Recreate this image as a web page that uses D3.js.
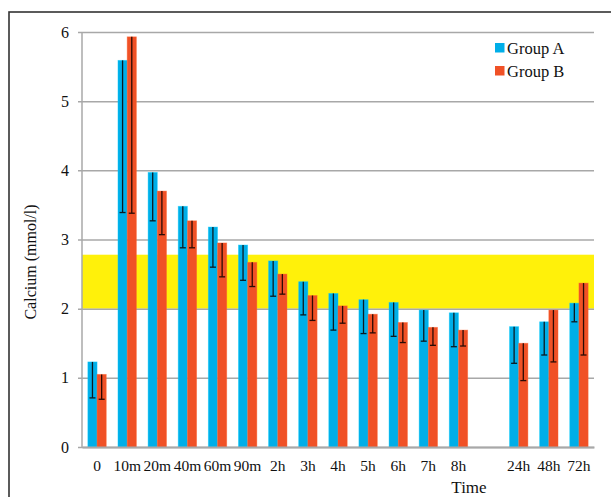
<!DOCTYPE html>
<html>
<head>
<meta charset="utf-8">
<script src="https://cdn.jsdelivr.net/npm/d3@7"></script>
<style>
  html, body { margin: 0; padding: 0; background: #fff; }
  svg { display: block; }
  text { font-family: "Liberation Serif", "Times New Roman", serif; fill: #111; }
</style>
</head>
<body>
<svg id="chart" width="611" height="497"></svg>
<script>
// Sampling times ("" leaves a gap between 8h and 24h)
const categories = ["0", "10m", "20m", "40m", "60m", "90m", "2h", "3h", "4h", "5h", "6h", "7h", "8h", "", "24h", "48h", "72h"];
const seriesNames = ["Group A", "Group B"];
// Mean calcium (mmol/l)
const groupA = [1.23, 5.59, 3.97, 3.48, 3.18, 2.92, 2.69, 2.39, 2.22, 2.13, 2.09, 1.98, 1.94, null, 1.74, 1.81, 2.08];
const groupB = [1.05, 5.93, 3.70, 3.27, 2.95, 2.67, 2.50, 2.19, 2.04, 1.92, 1.80, 1.73, 1.69, null, 1.50, 1.98, 2.37];
// Standard deviations (drawn below the mean)
const sdA = [0.52, 2.20, 0.70, 0.60, 0.58, 0.51, 0.51, 0.48, 0.53, 0.49, 0.49, 0.45, 0.49, null, 0.53, 0.48, 0.27];
const sdB = [0.36, 2.55, 0.63, 0.39, 0.49, 0.35, 0.29, 0.36, 0.25, 0.27, 0.29, 0.26, 0.23, null, 0.54, 0.75, 1.04];
// Reference range band
const normalRange = [2.0, 2.78];
const yTicks = [0, 1, 2, 3, 4, 5, 6];

const colors = ["#00aee8", "#f05126"];
const svg = d3.select("#chart");

const margin = { left: 82, right: 17, top: 32, bottom: 50 };
const W = 611, H = 497;

// outer frame
svg.append("rect")
  .attr("x", 9).attr("y", 12)
  .attr("width", W + 20).attr("height", H + 20)
  .attr("fill", "none").attr("stroke", "#333").attr("stroke-width", 1.6);

const x = d3.scaleBand().domain(d3.range(categories.length))
  .range([margin.left, W - margin.right]).padding(0);
const y = d3.scaleLinear().domain([0, 6]).range([H - margin.bottom, margin.top]);

const barW = 9.2;

// reference band
svg.append("rect")
  .attr("x", margin.left)
  .attr("width", W - margin.right - margin.left)
  .attr("y", y(normalRange[1]))
  .attr("height", y(normalRange[0]) - y(normalRange[1]))
  .attr("fill", "#fff10a");

// gridlines
const yAxis = d3.axisLeft(y).tickValues(yTicks).tickFormat(d3.format("d"))
  .tickSize(-(W - margin.right - margin.left)).tickPadding(13);
const gy = svg.append("g").attr("transform", `translate(${margin.left},0)`).call(yAxis);
gy.select(".domain").remove();
gy.selectAll(".tick line").attr("stroke", "#a8a8a8").attr("stroke-width", 1.5).attr("x1", -4);
gy.selectAll(".tick text").attr("font-size", 16).attr("fill", "#111")
  .style("font-family", "'Liberation Serif', serif");

// y axis line
svg.append("line")
  .attr("x1", margin.left).attr("x2", margin.left)
  .attr("y1", y(6)).attr("y2", y(0))
  .attr("stroke", "#a8a8a8").attr("stroke-width", 1.5);

// bars
const series = [groupA, groupB];
const sds = [sdA, sdB];
series.forEach((vals, s) => {
  const g = svg.append("g");
  const data = vals.map((v, i) => ({ i, v, sd: sds[s][i] })).filter(d => d.v != null);
  const cx = d => x(d.i) + x.bandwidth() / 2 + (s === 0 ? -barW : 0);
  g.selectAll("rect").data(data).join("rect")
    .attr("x", cx)
    .attr("width", barW)
    .attr("y", d => y(d.v))
    .attr("height", d => y(0) - y(d.v))
    .attr("fill", colors[s])
    .attr("stroke", d3.color(colors[s]).brighter(0.5))
    .attr("stroke-opacity", 0.5)
    .attr("stroke-width", 0.8);
  // error bars
  const ex = d => cx(d) + barW / 2;
  const eColor = s === 0 ? "#0b1a22" : "#2a0a04";
  g.selectAll("line.err").data(data).join("line").attr("class", "err")
    .attr("x1", ex).attr("x2", ex)
    .attr("y1", d => y(d.v)).attr("y2", d => y(d.v - d.sd))
    .attr("stroke", eColor).attr("stroke-width", 1.3);
  g.selectAll("line.cap").data(data).join("line").attr("class", "cap")
    .attr("x1", d => ex(d) - 3).attr("x2", d => ex(d) + 3)
    .attr("y1", d => y(d.v - d.sd)).attr("y2", d => y(d.v - d.sd))
    .attr("stroke", eColor).attr("stroke-width", 1.3);
});

// x axis
const xAxis = d3.axisBottom(x).tickFormat(i => categories[i]).tickSize(0).tickPadding(13);
const gx = svg.append("g").attr("transform", `translate(0,${y(0)})`).call(xAxis);
gx.select(".domain").attr("stroke", "#a8a8a8").attr("stroke-width", 2);
gx.selectAll(".tick text").attr("font-size", 15.5).attr("fill", "#111")
  .style("font-family", "'Liberation Serif', serif");

// axis titles
svg.append("text")
  .attr("x", 469).attr("y", 493)
  .attr("text-anchor", "middle").attr("font-size", 17)
  .text("Time");
svg.append("text")
  .attr("transform", "translate(36,262) rotate(-90)")
  .attr("text-anchor", "middle").attr("font-size", 16)
  .text("Calcium (mmol/l)");

// legend
const leg = svg.append("g");
seriesNames.forEach((name, s) => {
  leg.append("rect").attr("x", 495).attr("y", 43 + s * 23)
    .attr("width", 9.5).attr("height", 9.5).attr("fill", colors[s]);
  leg.append("text").attr("x", 507).attr("y", 54 + s * 23)
    .attr("font-size", 16.5).text(name);
});
</script>
</body>
</html>
